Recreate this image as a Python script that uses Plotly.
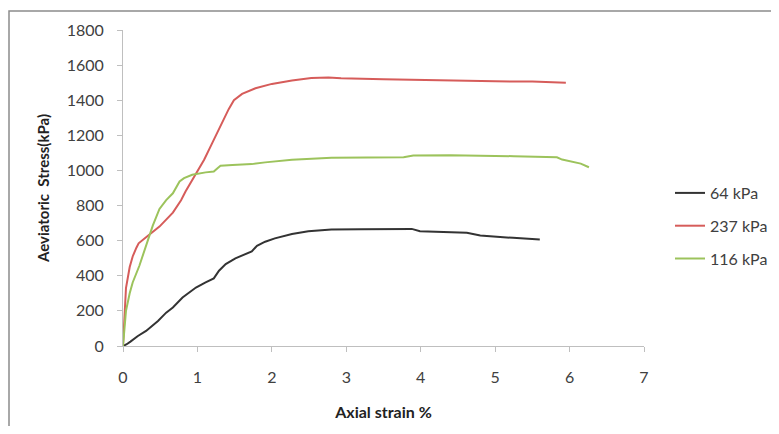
import plotly.graph_objects as go

# 64 kPa
strain_64 = [0, 0.05, 0.1, 0.2, 0.31, 0.47, 0.58, 0.67, 0.8, 0.98, 1.11, 1.22, 1.29, 1.38, 1.51, 1.64, 1.73,
             1.8, 1.91, 2.04, 2.27, 2.49, 2.8, 3.2, 3.6, 3.88, 3.99, 4.3, 4.62, 4.8, 5.0, 5.24, 5.6]
stress_64 = [0, 10, 25, 57, 86, 143, 190, 219, 276, 333, 362, 385, 429, 467, 499, 524, 539,
             571, 594, 613, 638, 653, 663, 665, 667, 667, 654, 650, 645, 629, 622, 616, 607]

# 237 kPa
strain_237 = [0, 0.04, 0.09, 0.13, 0.18, 0.21, 0.31, 0.49, 0.67, 0.78, 0.84, 0.98, 1.09, 1.2, 1.31, 1.42,
              1.49, 1.6, 1.78, 2.0, 2.27, 2.53, 2.76, 2.93, 3.5, 4.0, 4.4, 5.0, 5.5, 5.95]
stress_237 = [0, 330, 450, 510, 560, 585, 619, 680, 760, 830, 880, 985, 1061, 1157, 1253, 1349,
              1400, 1436, 1468, 1493, 1512, 1526, 1530, 1525, 1520, 1516, 1510, 1508, 1506, 1500]

# 116 kPa
strain_116 = [0, 0.04, 0.09, 0.13, 0.22, 0.31, 0.4, 0.49, 0.58, 0.67, 0.71, 0.76, 0.82, 0.93, 1.11, 1.22,
              1.27, 1.31, 1.47, 1.73, 1.91, 2.27, 2.8, 3.45, 3.77, 3.9, 4.4, 5.25, 5.83, 5.9, 6.15, 6.26]
stress_116 = [0, 200, 300, 362, 457, 571, 686, 781, 831, 870, 898, 937, 956, 975, 989, 994,
              1013, 1027, 1031, 1036, 1046, 1061, 1073, 1075, 1075, 1085, 1087, 1081, 1075, 1062, 1039, 1018]

series_names = ["64 kPa", "237 kPa", "116 kPa"]
series_colors = ["#333333", "#d65c5a", "#9cc35c"]
x_ticks = [0, 1, 2, 3, 4, 5, 6, 7]
y_ticks = [0, 200, 400, 600, 800, 1000, 1200, 1400, 1600, 1800]

fig = go.Figure()
for i, (xs, ys) in enumerate([(strain_64, stress_64), (strain_237, stress_237), (strain_116, stress_116)]):
    fig.add_trace(go.Scatter(x=xs, y=ys, mode="lines", name=series_names[i],
                             legendgroup=f"g{i}",
                             line=dict(color=series_colors[i], width=2)))

# page body has an 8px margin, so the figure is drawn at (8, 8); keep it inside the window
W, H = 763, 418
L, R, T, B = 115, 127, 22, 80
pw, ph = W - L - R, H - T - B

fig.update_layout(
    width=W, height=H,
    margin=dict(l=L, r=R, t=T, b=B, autoexpand=False),
    paper_bgcolor="white", plot_bgcolor="white",
    font=dict(family="Lato, Open Sans, sans-serif", size=16, color="#404040"),
    showlegend=True,
    legend=dict(x=(662 - L) / pw, y=(T + ph - 168) / ph, xanchor="left", yanchor="top",
                font=dict(size=16, color="#404040"), tracegroupgap=9,
                bgcolor="rgba(0,0,0,0)", itemwidth=30),
    xaxis=dict(range=[0, 7], tickvals=x_ticks, ticks="outside", ticklen=5, tickcolor="#bfbfbf",
               showline=True, linecolor="#bfbfbf", linewidth=1, showgrid=False, zeroline=False,
               automargin=False, ticklabelstandoff=12,
               title=dict(text="<b>Axial strain %</b>", font=dict(size=16, color="#222222"), standoff=21)),
    yaxis=dict(range=[0, 1800], tickvals=y_ticks, ticks="outside", ticklen=5, tickcolor="#bfbfbf",
               showline=True, linecolor="#bfbfbf", linewidth=1, showgrid=False, zeroline=False,
               automargin=False, ticklabelstandoff=10,
               title=dict(text="<b>Aeviatoric  Stress(kPa)</b>", font=dict(size=15, color="#222222"), standoff=13)),
    shapes=[dict(type="rect", xref="paper", yref="paper",
                 x0=(1 - L) / pw, x1=(800 - L) / pw,
                 y0=(T + ph - 460) / ph, y1=(T + ph - 3) / ph,
                 line=dict(color="#8c8c8c", width=1.5), fillcolor="rgba(0,0,0,0)", layer="below")],
)

fig.write_html("out.html")
